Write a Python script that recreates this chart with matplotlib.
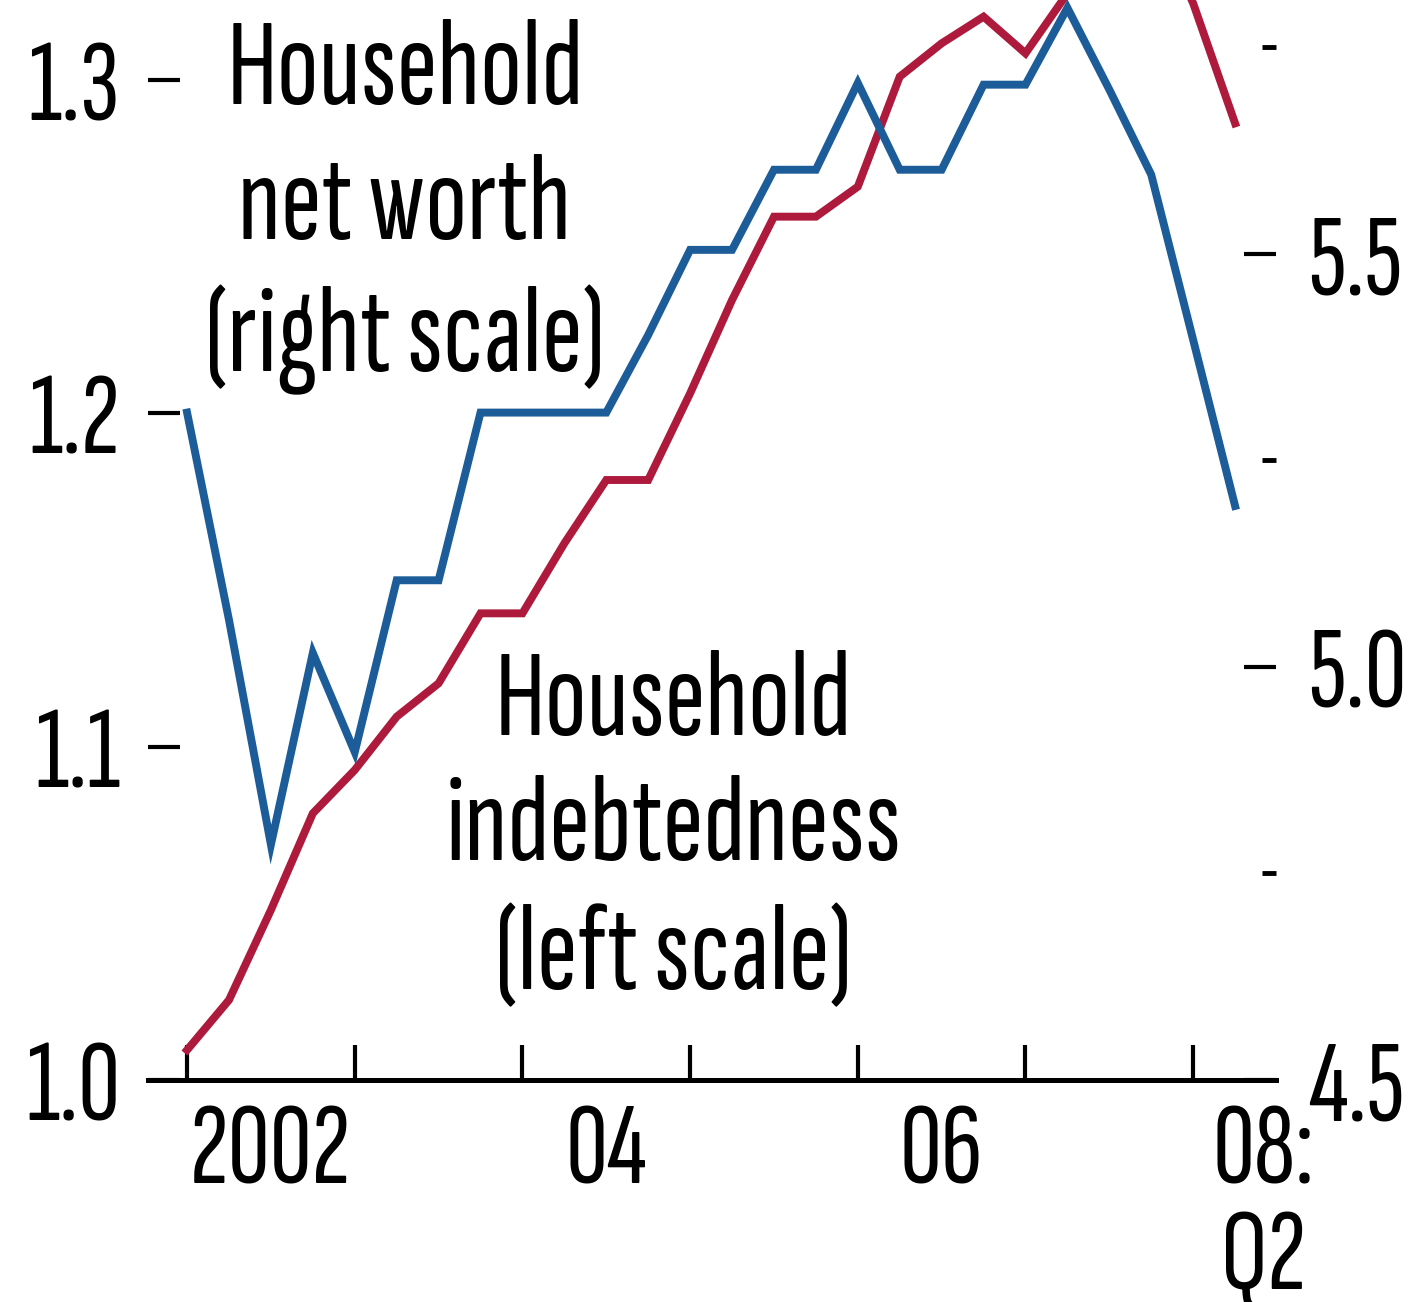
import matplotlib
matplotlib.use("Agg")
import matplotlib.pyplot as plt
import matplotlib.transforms as mtransforms
from matplotlib.ticker import FixedLocator, NullFormatter

plt.rcParams['font.family'] = ['Sofia Sans Extra Condensed', 'DejaVu Sans']

# quarterly data, 2002:Q1 .. 2008:Q2
quarters = [2002 + k / 4 for k in range(26)]
indebtedness = [1.009, 1.024, 1.051, 1.080, 1.093, 1.109, 1.119, 1.140, 1.140, 1.161,
                1.180, 1.180, 1.206, 1.234, 1.259, 1.259, 1.268, 1.301, 1.311, 1.319,
                1.308, 1.326, 1.339, 1.351, 1.323, 1.287]
net_worth = [5.308, 5.057, 4.785, 5.017, 4.897, 5.105, 5.105, 5.308, 5.308, 5.308,
             5.308, 5.402, 5.505, 5.505, 5.602, 5.602, 5.707, 5.602, 5.602, 5.705,
             5.705, 5.798, 5.699, 5.596, 5.396, 5.195]

left_ticks = [1.0, 1.1, 1.2, 1.3]
right_ticks = [4.5, 5.0, 5.5]
right_minor = [4.75, 5.25, 5.75]
year_ticks = [2002, 2003, 2004, 2005, 2006, 2007, 2008]
label_pos = [2002.5, 2004.5, 2006.5, 2008.42]
label_txt = ['2002', '04', '06', '08:\nQ2']

blue = '#1c5c98'
red = '#ae1a3c'

fig = plt.figure(figsize=(14.11, 13.02), dpi=100)
ax = fig.add_axes([148 / 1411, 222 / 1302, 1128 / 1411, 1080 / 1302])
ax2 = ax.twinx()

ax.plot(quarters, indebtedness, color=red, lw=5.7, solid_joinstyle='miter', zorder=3)
ax2.plot(quarters, net_worth, color=blue, lw=5.7, solid_joinstyle='miter', zorder=3)

ax.set_xlim(2001.767, 2008.494)
ax.set_ylim(1.0, 1.324)
ax2.set_ylim(4.5, 5.8075)

for a in (ax, ax2):
    for s in a.spines.values():
        s.set_visible(False)
ax.spines['bottom'].set_visible(True)
ax.spines['bottom'].set_linewidth(3.6)
ax.spines['bottom'].set_zorder(5)

ax.set_yticks(left_ticks)
ax.set_yticklabels(['%.1f' % v for v in left_ticks])
ax.tick_params(axis='y', direction='in', length=23, width=3, pad=20, labelsize=84)

ax2.set_yticks(right_ticks)
ax2.set_yticklabels(['%.1f' % v for v in right_ticks])
ax2.yaxis.set_minor_locator(FixedLocator(right_minor))
ax2.yaxis.set_minor_formatter(NullFormatter())
ax2.tick_params(axis='y', which='major', direction='in', length=23, width=3, pad=23, labelsize=84)
ax2.tick_params(axis='y', which='minor', direction='in', length=10, width=3.5)

ax.set_xticks(year_ticks)
ax.set_xticklabels([])
ax.xaxis.set_minor_locator(FixedLocator(label_pos))
ax.set_xticklabels(label_txt, minor=True)
ax.tick_params(axis='x', which='major', direction='in', length=25, width=3)
ax.tick_params(axis='x', which='minor', length=0, pad=16, labelsize=84)
for t in ax.xaxis.get_minorticklabels():
    t.set_linespacing(1.04)

trans = mtransforms.blended_transform_factory(ax.transData, ax.transAxes)
upper = [('Household', 0.9037), ('net worth', 0.7787), ('(right scale)', 0.6565)]
lower = [('Household', 0.3194), ('indebtedness', 0.2037), ('(left scale)', 0.0833)]
for txt, yy in upper:
    ax.text(2003.30, yy, txt, transform=trans, ha='center', va='baseline', fontsize=89)
for txt, yy in lower:
    ax.text(2004.90, yy, txt, transform=trans, ha='center', va='baseline', fontsize=89)

fig.savefig('out.png', dpi=100)
